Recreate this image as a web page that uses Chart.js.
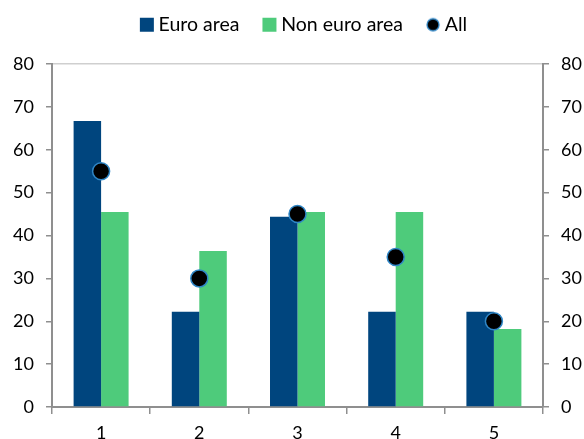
<!DOCTYPE html>
<html>
<head>
<meta charset="utf-8">
<script src="https://cdn.jsdelivr.net/npm/chart.js@4/dist/chart.umd.min.js"></script>
<style>
html,body{margin:0;padding:0;background:#fff;}
#wrap{width:584px;height:439px;position:relative;}
</style>
</head>
<body>
<div id="wrap"><canvas id="c" width="584" height="439"></canvas></div>
<script>
const categories = ["1", "2", "3", "4", "5"];
const euroArea = [66.7, 22.2, 44.4, 22.2, 22.2];
const nonEuroArea = [45.5, 36.4, 45.5, 45.5, 18.2];
const allValues = [55, 30, 45, 35, 20];
const yTicks = [0, 10, 20, 30, 40, 50, 60, 70, 80];

const FONT = "Lato, 'Open Sans', sans-serif";
const AXIS = "#8f8f8f";

function circleIcon() {
  const cv = document.createElement('canvas');
  cv.width = 16; cv.height = 16;
  const g = cv.getContext('2d');
  g.beginPath(); g.arc(8, 8, 6.0, 0, Math.PI * 2);
  g.fillStyle = '#000'; g.fill();
  g.lineWidth = 1.3; g.strokeStyle = '#2f86c6'; g.stroke();
  return cv;
}
const allIcon = circleIcon();

const legendTweak = {
  id: 'legendTweak',
  beforeInit(chart) {
    const lg = chart.legend;
    const orig = lg.fit;
    lg.fit = function () { orig.call(this); this.height = 77; };
  },
  afterLayout(chart) {
    chart.legend.left += 14;
    chart.legend.right += 14;
  }
};

new Chart(document.getElementById('c'), {
  data: {
    labels: categories,
    datasets: [
      { type: 'line', label: 'All', data: allValues, showLine: false,
        pointRadius: 8.5, pointHoverRadius: 8.5, pointBackgroundColor: '#000',
        pointBorderColor: '#2f86c6', pointBorderWidth: 1.5, yAxisID: 'y', order: 0 },
      { type: 'bar', label: 'Euro area', data: euroArea, backgroundColor: '#00457e',
        categoryPercentage: 0.56, barPercentage: 1.0, yAxisID: 'y', order: 1 },
      { type: 'bar', label: 'Non euro area', data: nonEuroArea, backgroundColor: '#4ecb7b',
        categoryPercentage: 0.56, barPercentage: 1.0, yAxisID: 'y', order: 1 }
    ]
  },
  plugins: [legendTweak],
  options: {
    responsive: false,
    animation: false,
    layout: { padding: { left: 0, right: 0, top: -13, bottom: 0 } },
    plugins: {
      tooltip: { enabled: false },
      legend: {
        position: 'top',
        labels: {
          usePointStyle: true,
          boxWidth: 4, boxHeight: 14,
          padding: 28,
          color: '#000',
          font: { family: FONT, size: 19.5 },
          sort: (a, b) => [1, 2, 0].indexOf(a.datasetIndex) - [1, 2, 0].indexOf(b.datasetIndex),
          generateLabels: (chart) => chart.data.datasets.map((ds, i) => ({
            text: ds.label,
            datasetIndex: i,
            fillStyle: ds.type === 'bar' ? ds.backgroundColor : '#000',
            strokeStyle: ds.type === 'bar' ? ds.backgroundColor : '#2f86c6',
            lineWidth: 0,
            pointStyle: ds.type === 'bar' ? 'rect' : allIcon,
            fontColor: '#000'
          }))
        }
      }
    },
    scales: {
      x: {
        offset: true,
        grid: { display: true, drawOnChartArea: false, offset: true, tickLength: 7, color: AXIS, lineWidth: 1.5 },
        border: { color: AXIS, width: 2 },
        ticks: { color: '#000', font: { family: FONT, size: 18 }, padding: 8 },
        afterFit: (s) => { s.height = 32; }
      },
      y: {
        position: 'left', min: 0, max: 80,
        afterBuildTicks: (s) => { s.ticks = yTicks.map(v => ({ value: v })); },
        grid: { drawOnChartArea: true, tickLength: 6,
          color: (ctx) => ctx.tick && ctx.tick.value === 80 ? '#cfcfcf' : 'rgba(0,0,0,0)',
          tickColor: AXIS, lineWidth: 1.5 },
        border: { color: AXIS, width: 2 },
        ticks: { color: '#000', font: { family: FONT, size: 18 }, padding: 12 },
        afterFit: (s) => { s.width = 52; }
      },
      y2: {
        position: 'right', min: 0, max: 80,
        afterBuildTicks: (s) => { s.ticks = yTicks.map(v => ({ value: v })); },
        grid: { drawOnChartArea: false, tickLength: 6, color: AXIS, tickColor: AXIS, lineWidth: 1.5 },
        border: { color: AXIS, width: 2 },
        ticks: { color: '#000', font: { family: FONT, size: 18 }, padding: 12 },
        afterFit: (s) => { s.width = 41; }
      }
    }
  }
});
</script>
</body>
</html>
